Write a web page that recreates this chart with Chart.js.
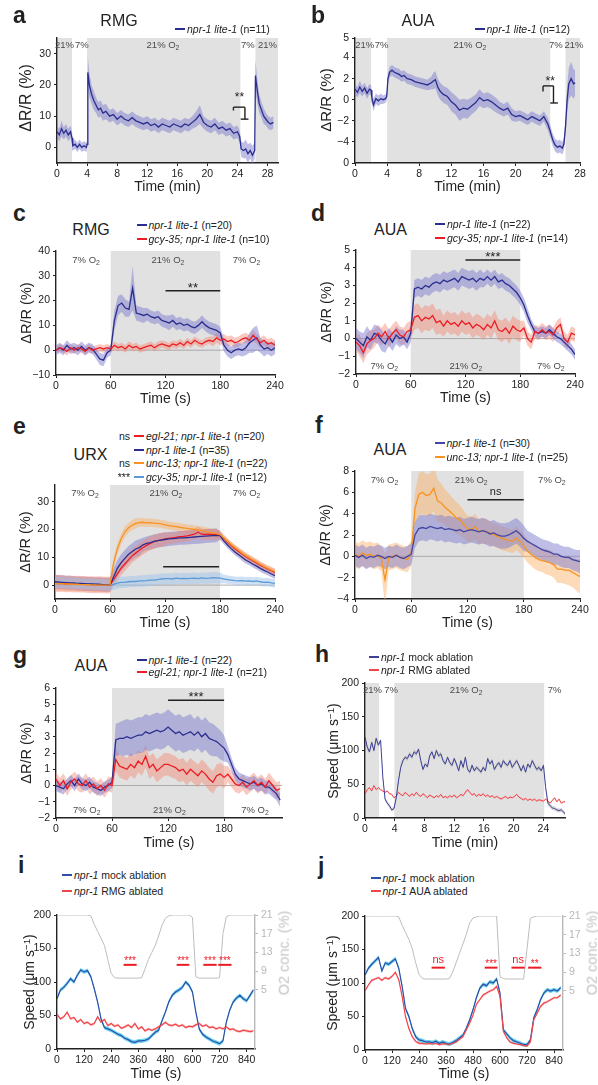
<!DOCTYPE html>
<html><head><meta charset="utf-8">
<script src="https://cdn.jsdelivr.net/npm/chart.js@4.4.0/dist/chart.umd.min.js"></script>
<style>
body{margin:0;width:598px;height:1085px;position:relative;background:#fff;overflow:hidden;font-family:'Liberation Sans',Arial,Helvetica,sans-serif}
canvas{position:absolute}
.t{position:absolute;white-space:nowrap;line-height:1;color:#222}
.t sup{font-size:0.7em;line-height:0;vertical-align:0.45em}
.mk{position:absolute;width:10px;height:2px}
</style></head><body>
<script>
// ---------------- DATA ----------------
// panel a (RMG, min)
const tA=[0,0.3,0.6,0.9,1.2,1.5,1.8,2.0,2.1,2.4,2.7,3.0,3.3,3.6,3.9,4.0,4.1,4.3,4.6,4.9,5.2,5.5,5.8,6.1,6.5,7,7.5,8,8.5,9,9.5,10,10.5,11,11.5,12,12.5,13,13.5,14,14.5,15,15.5,16,16.5,17,17.5,18,18.5,19,19.5,20,20.5,21,21.5,22,22.5,23,23.5,24,24.3,24.5,24.8,25.1,25.4,25.7,26.0,26.3,26.4,26.6,26.9,27.2,27.5,27.8,28.1,28.4,28.8];
const aMean=[5,4,6,4.5,5.5,4,5,3,0.5,1,0,1,0,0.5,0,1,24,20,17,15,13.5,12,12.5,11,11.5,10,10.5,9,10,9,8.5,9.5,8.5,8,7.5,8,7,7.5,6.5,7.5,7,6.5,7.5,7,6.5,7.5,7,8,9,10.5,8,7,6.5,7.5,6,6.5,5.5,6,4.5,5,3.5,-0.5,-1,-0.5,-2,-1,-2.5,-1,23,19,14,12,10,9,8,7.5,8];
const aErr=[2,2,2.5,2,2,2,2,2,1.5,1.5,1.5,1.5,1.5,1.5,1.5,1.5,5,4,3,3,2.5,2.5,2.5,2.5,2.5,2,2,2,2,2,2,2,2,2,2,2,2,2,2,2,2,2,2,2,2,2,2,2,2.5,3,2,2,2,2,2,2,2,2,2,2,2,2.5,2.5,3,3,2.5,3,2.5,5,4,3,2.5,2.5,2,2,2,2];
// panel b (AUA, min)
const tB=[0,0.3,0.6,0.9,1.2,1.5,1.8,2.0,2.1,2.3,2.6,2.9,3.2,3.5,3.8,3.95,4.1,4.3,4.6,4.9,5.2,5.5,5.8,6.1,6.5,7,7.5,8,8.5,9,9.5,9.8,10,10.3,10.6,11,11.5,12,12.5,13,13.5,14,14.5,15,15.5,16,16.5,17,17.5,18,18.5,19,19.5,20,20.5,21,21.5,22,22.5,23,23.5,24,24.3,24.6,24.9,25.2,25.5,25.8,26.0,26.2,26.4,26.6,26.9,27.2,27.4];
const bMean=[1.0,0.7,1.2,0.8,1.1,0.6,1.0,0.9,0.2,-0.5,0.1,-0.1,0.1,0,0.1,0.3,2.0,2.6,2.8,2.6,2.5,2.4,2.2,2.3,2.0,1.9,1.7,1.6,1.5,1.4,1.6,1.8,1.9,1.2,0.8,0.5,0.3,-0.2,-0.5,-1.0,-0.8,-0.9,-0.6,-0.3,0.2,-0.1,0.0,-0.2,-0.5,-0.8,-1.0,-0.8,-1.4,-1.6,-1.5,-1.7,-1.9,-1.6,-1.8,-2.0,-1.6,-2.3,-3.0,-3.8,-4.3,-4.5,-4.4,-4.6,-4.2,-2.5,0.0,1.5,2.0,1.5,1.6];
const bErr=[0.5,0.5,0.6,0.5,0.5,0.5,0.5,0.5,0.5,0.6,0.5,0.5,0.5,0.4,0.4,0.4,0.5,0.5,0.5,0.5,0.5,0.5,0.5,0.5,0.5,0.5,0.5,0.5,0.5,0.5,0.6,0.8,0.8,0.8,0.8,0.8,0.8,0.9,0.9,1.0,0.9,0.9,0.8,0.8,0.8,0.7,0.7,0.7,0.7,0.6,0.6,0.6,0.6,0.5,0.5,0.5,0.5,0.5,0.5,0.5,0.5,0.6,0.6,0.6,0.6,0.6,0.6,0.6,0.6,0.8,1.2,1.5,1.6,1.4,1.2];
// shared time axis for c-g (s)
const tSec=[0,4,8,12,16,20,24,28,32,36,40,44,48,52,56,60,64,68,72,76,80,84,88,92,96,100,104,108,112,116,120,124,128,132,136,140,144,148,152,156,160,164,168,172,176,180,184,188,192,196,200,204,208,212,216,220,224,228,232,236,240];
// panel c (RMG)
const cBlue=[0,1,0,2,0.5,1,0,1.5,0,1,0.5,-1.5,-3.5,-4,-1,0,12,18,19,17,16.5,25,15,14.5,14,14.5,13.5,13,13.5,12,11.5,11,12,10.5,11,10,10.5,9.5,9,10,11.5,10,9,8.5,8,7,2,0,-1,0,0.5,0,1,3,4,5,2,0.5,1,0,1];
const cBlueErr=[2,2,2,2,2,2,2,2,2,2,2,2,2.5,2.5,2,2,4,4,3.5,3.5,3,9,3,3,3,2.5,2.5,2.5,2.5,2.5,2.5,3,2.5,2.5,2.5,2.5,2.5,2.5,2.5,2.5,2.5,2.5,2.5,2.5,2.5,2.5,2.5,2.5,2.5,2.5,2.5,2.5,3,4,5,5,3,3,2.5,2.5,2.5];
const cRed=[0,1,0.5,-0.5,1,0,1,0.5,-0.5,1,0,0.5,1,0.5,1,0.5,2,1,1.5,0.5,2,1,1.5,0.5,1,1.5,2,1,2,2.5,2,1.5,2.5,2,3,2,3.5,2.5,4,3,2.5,3.5,4,3.5,5,4,4.5,3.5,4,3,3.5,4.5,5,4,6,4.5,3,4,2.5,3,2];
const cRedErr=[1.5,1.5,1.5,1.6,1.5,1.5,1.5,1.5,1.6,1.5,1.5,1.5,1.5,1.5,1.5,1.5,1.5,1.5,1.5,1.5,1.6,1.5,1.5,1.5,1.5,1.5,1.5,1.5,1.5,1.5,1.5,1.5,1.5,1.5,1.6,1.5,1.5,1.5,1.5,1.5,1.5,1.5,1.5,2,2,2,2,2,2,2,2,2,2,2,2.2,2,2,2,2,2,2];
// panel d (AUA)
const dBlue=[0,-0.2,-0.4,0.1,-0.1,0.3,0.2,-0.1,-0.3,0.1,-0.2,0.2,0,0.1,-0.2,0.3,2.8,2.9,2.8,3.0,2.9,3.1,3.2,3.1,3.3,3.2,3.3,3.4,3.2,3.5,3.4,3.3,3.4,3.2,3.4,3.3,3.5,3.3,3.5,3.2,3.3,3.1,3.0,2.8,2.6,2.3,1.9,1.3,0.8,0.4,0.3,0.4,0.3,0.5,0.3,0.1,0.0,-0.2,-0.4,-0.6,-0.9];
const dBlueErr=[0.6,0.6,0.7,0.6,0.5,0.5,0.5,0.6,0.5,0.5,0.5,0.5,0.5,0.4,0.4,0.5,0.5,0.5,0.5,0.5,0.5,0.5,0.5,0.5,0.5,0.5,0.5,0.5,0.5,0.5,0.5,0.5,0.5,0.5,0.5,0.4,0.4,0.4,0.4,0.4,0.4,0.4,0.4,0.4,0.4,0.4,0.4,0.4,0.3,0.3,0.3,0.3,0.3,0.3,0.3,0.3,0.3,0.3,0.3,0.3,0.3];
const dRed=[-0.2,-0.4,-0.8,-0.3,-0.1,0.0,0.3,0.1,0.4,0.0,0.3,0.5,0.2,0.1,0.4,0.5,1.2,1.3,1.0,1.2,1.1,1.3,0.9,1.0,0.7,1.0,0.8,0.9,0.7,1.0,0.8,0.9,0.6,0.8,0.7,0.5,0.8,0.6,1.0,0.5,0.4,0.6,0.3,0.7,0.5,0.4,0.6,0.0,-0.2,0.4,0.3,0.5,0.3,0.4,0.2,0.6,0.8,0.0,-0.2,0.3,0.2];
const dRedErr=[0.5,0.6,0.6,0.6,0.6,0.5,0.5,0.5,0.5,0.5,0.5,0.5,0.5,0.5,0.5,0.5,0.7,0.7,0.7,0.7,0.7,0.7,0.7,0.7,0.6,0.6,0.6,0.6,0.6,0.6,0.6,0.6,0.6,0.6,0.6,0.6,0.6,0.6,0.6,0.6,0.6,0.6,0.6,0.6,0.6,0.6,0.4,0.4,0.4,0.4,0.4,0.4,0.4,0.4,0.4,0.4,0.4,0.4,0.4,0.4,0.4];
// panel e (URX)
const eBlue=[1.2,1.1,1.0,0.9,0.8,0.8,0.6,0.6,0.5,0.4,0.4,0.3,0.3,0.2,0.1,0.1,3,6,8,9.5,11,12,13,13.5,14.5,15,15.3,15.7,16,16.2,16.4,16.6,16.7,16.8,17,17,17.1,17.2,17.3,17.4,17.5,17.6,17.7,17.8,17.9,17.8,16,14.5,13.2,12,11,10,9,8.3,7.5,6.8,6,5.3,4.7,4,3.4];
const eBlueErr=[2.5,2.5,2.5,2.5,2.5,2.5,2.5,2.5,2.5,2.5,2.5,2.5,2.5,2.5,2.5,2.5,3,3,3,3,3,3,3,3,2.5,2.5,2.5,2.5,2.5,2.5,2.5,2.5,2.5,2.5,2.5,2.5,2.5,2.5,2.5,2.5,2.5,2.5,2.5,2.5,2.5,1.5,1.2,1.2,1.2,1.2,1.2,1.2,1.2,1.2,1.2,1.2,1.2,1.2,1.2,1.2,1.2];
const eRed=[0.6,0.5,0.6,0.4,0.5,0.3,0.4,0.3,0.3,0.2,0.2,0.1,0.2,0.1,0.0,0.1,2,4,6,7.5,9,10.5,11.5,12.5,13.5,14.3,15,15.6,16,16.3,16.6,16.8,17,17.2,17.4,17.5,17.7,18,18.3,19,18.3,18.2,18.3,18.2,18.3,18.0,16.8,15.5,14.3,13.2,12.2,11.2,10.3,9.5,8.7,8,7.2,6.5,5.8,5.2,4.6];
const eRedErr=[3,3,3,3,3,3,3,3,3,3,3,3,3,3,3,3,2,2.5,2.5,2.5,2.5,2.5,2.5,2.5,2.5,2.5,2.5,2.5,2.5,2.5,2.5,2,2,2,2,2,2,2,2,2,2,2,2,2,2,1.5,1.2,1.2,1.2,1.2,1.2,1.2,1.2,1.2,1.2,1.2,1.2,1.2,1.2,1.2,1.2];
const eOrange=[0.6,0.5,0.5,0.4,0.4,0.3,0.3,0.2,0.2,0.2,0.1,0.1,0.0,0.0,0.0,0.1,8,13,16.5,19,20.5,21.5,22.2,22.5,22.6,22.4,22.5,22.3,22.2,22,21.7,21.4,21.2,21,20.8,20.6,20.4,20.2,20,19.8,19.6,19.3,19,18.8,18.5,18.2,17,15.8,14.6,13.5,12.5,11.5,10.6,9.8,9,8.2,7.4,6.7,6,5.4,4.8];
const eOrangeErr=[2.5,2.5,2.5,2.5,2.5,2.5,2.5,2.5,2.5,2.5,2.5,2.5,2.5,2.5,2.5,2.5,2,2,2,2,1.8,1.8,1.8,1.5,1.5,1.5,1.5,1.5,1.5,1.5,1.5,1.5,1.5,1.5,1.5,1.5,1.5,1.5,1.5,1.5,1.5,1.5,1.5,1.5,1.5,1.5,1.2,1.2,1.2,1.2,1.2,1.2,1.2,1.2,1.2,1.2,1.2,1.2,1.2,1.2,1.2];
const eCyan=[1.0,0.9,0.9,0.8,0.7,0.7,0.6,0.5,0.5,0.4,0.4,0.3,0.2,0.2,0.1,0.0,0.3,0.7,1,1,1.2,1.3,1.3,1.5,1.5,1.6,1.8,1.8,2,2.2,2.3,2.3,2.2,2.5,2.3,2.4,2.3,2.4,2.5,2.3,2.6,2.4,2.5,2.7,2.6,2.5,2.2,2,1.8,1.6,1.5,1.6,1.4,1.5,1.3,1.5,1.2,1.0,1.1,0.8,0.6];
const eCyanErr=[2,2,2,2,2,2,2,2,2,2,2,2,2,2,2,2,2,2,2,2,2,2,2,2,2,2,2,2,2,2,2,2,2,2,2,2,2,2,2,2,2,2,2,2,2,2,1.5,1.5,1.5,1.5,1.5,1.5,1.5,1.5,1.5,1.5,1.5,1.5,1.5,1.5,1.5];
// panel f (AUA)
const fBlue=[0.1,-0.1,0.1,-0.2,0.0,-0.1,0.1,0.0,-0.2,0.0,-0.1,0.1,-0.1,-0.2,0.0,0.2,2.0,2.6,2.7,2.6,2.8,2.7,2.6,2.7,2.5,2.6,2.5,2.4,2.5,2.3,2.4,2.5,2.4,2.3,2.4,2.3,2.1,2.2,2.0,1.9,1.9,2.0,2.2,2.4,2.1,1.7,1.4,1.2,1.0,0.8,0.6,0.5,0.4,0.2,0.2,0.0,-0.1,-0.1,-0.3,-0.4,-0.5];
const fBlueErr=[1,1,1,1,1,1,1,1,1,1,1,1,1,1,1,1,1.2,1.2,1.2,1.2,1.2,1.2,1.2,1.2,1.2,1.2,1.2,1.2,1.2,1.2,1.2,1.2,1.2,1.2,1.2,1.2,1.2,1.2,1.2,1.2,1.2,1.2,1.2,1.2,1.2,1.2,1,1,1,1,1,1,1,1,1,1,1,1,1,1,1.1];
const fOrange=[0.2,0.0,0.3,0.1,0.2,0.0,0.1,-0.2,-2.2,-0.1,0.0,0.1,-0.1,-0.2,-0.3,0.3,4.5,5.8,6.0,5.7,5.8,6.4,5.2,5.0,4.6,4.3,4.0,3.6,3.4,3.0,2.6,2.5,2.8,2.3,2.4,2.3,2.2,2.0,1.9,1.7,1.6,1.5,1.4,1.7,1.4,1.0,0.5,0.2,-0.1,-0.3,-0.4,-0.5,-0.6,-0.8,-1.2,-1.2,-1.3,-1.3,-1.5,-1.7,-1.9];
const fOrangeErr=[1.2,1.2,1.2,1.2,1.2,1.2,1.2,1.2,2.5,1.2,1.2,1.2,1.2,1.2,1.2,1.2,1.5,2,2,2,2,2.2,2,1.8,1.7,1.6,1.5,1.5,1.4,1.3,1.2,1.2,1.2,1.2,1.2,1.2,1.1,1.1,1.1,1.1,1.1,1.1,1.1,1.1,1.1,1.1,1.1,1.1,1.1,1.1,1.1,1.2,1.2,1.2,1.3,1.3,1.3,1.4,1.4,1.5,1.6];
// panel g (AUA)
const gBlue=[0.0,-0.1,-0.2,0.1,0.3,0.0,0.4,0.1,0.0,0.2,-0.1,-0.2,-0.3,-0.1,0.0,0.2,2.8,2.9,2.9,3.0,2.9,3.0,3.1,3.1,3.3,3.2,3.3,3.4,3.3,3.4,3.6,3.4,3.2,3.3,3.1,3.2,3.3,3.1,3.3,3.0,3.2,2.9,2.8,2.7,2.5,2.3,1.9,1.3,0.7,0.4,0.3,0.2,0.1,0.2,0.0,0.1,-0.1,-0.1,-0.3,-0.5,-0.9];
const gBlueErr=[0.35,0.35,0.35,0.35,0.35,0.35,0.35,0.35,0.35,0.35,0.35,0.35,0.35,0.35,0.35,0.35,1.0,1.0,1.1,1.1,1.1,1.1,1.1,1.1,1.1,1.1,1.1,1.1,1.1,1.1,1.1,1.1,1.1,1.1,1.1,1.1,1.1,1.0,1.0,1.0,1.0,1.0,1.0,0.9,0.9,0.8,0.5,0.4,0.4,0.4,0.4,0.4,0.4,0.4,0.4,0.4,0.4,0.4,0.4,0.4,0.4];
const gRed=[0.4,0.0,0.3,-0.2,0.2,0.4,0.1,0.0,0.3,-0.1,0.1,-0.2,0.0,-0.3,0.1,0.0,1.6,1.2,1.1,1.0,1.3,1.1,1.5,1.3,1.8,1.1,1.3,0.9,1.1,1.3,1.3,1.2,1.1,0.9,1.0,0.7,1.0,0.8,0.6,0.9,0.7,0.4,0.2,0.6,0.7,0.5,0.7,0.4,0.1,0.0,0.2,-0.1,0.1,0.3,0.0,0.2,-0.1,0.3,0.0,-0.3,-0.2];
const gRedErr=[0.45,0.45,0.45,0.45,0.45,0.45,0.45,0.45,0.45,0.45,0.45,0.45,0.45,0.45,0.45,0.45,0.7,0.7,0.7,0.7,0.7,0.7,0.7,0.7,0.7,0.7,0.7,0.7,0.7,0.7,0.7,0.7,0.7,0.7,0.7,0.7,0.7,0.7,0.7,0.7,0.7,0.7,0.7,0.7,0.7,0.7,0.5,0.5,0.5,0.5,0.5,0.5,0.5,0.5,0.5,0.5,0.5,0.5,0.5,0.5,0.5];
// panel h (speed, min)
const tH=[0,0.3,0.6,0.9,1.2,1.5,1.8,2.1,2.4,2.7,3,3.3,3.6,3.9,4.2,4.5,4.8,5.1,5.4,5.7,6,6.3,6.6,6.9,7.2,7.5,7.8,8.1,8.4,8.7,9,9.3,9.6,9.9,10.2,10.5,10.8,11.1,11.4,11.7,12,12.3,12.6,12.9,13.2,13.5,13.8,14.1,14.4,14.7,15,15.3,15.6,15.9,16.2,16.5,16.8,17.1,17.4,17.7,18,18.3,18.6,18.9,19.2,19.5,19.8,20.1,20.4,20.7,21,21.3,21.6,21.9,22.2,22.5,22.8,23.1,23.4,23.7,24,24.3,24.6,24.9,25.2,25.5,25.8,26.1,26.4,26.7,27];
const hBlue=[120,105,98,112,100,118,108,115,60,28,22,18,12,14,30,55,75,85,90,88,95,90,98,95,102,85,72,80,76,92,98,88,100,92,95,85,80,90,82,78,88,80,70,85,75,90,72,68,78,70,75,72,68,75,70,88,80,85,72,78,82,75,85,80,78,85,75,80,85,78,70,78,68,80,75,85,78,72,75,70,78,45,22,18,15,14,12,11,12,9,5];
const hRed=[35,42,45,40,48,42,45,42,40,38,40,36,35,30,32,38,35,33,38,35,32,36,33,38,34,32,36,33,30,34,32,30,33,31,35,30,32,30,33,31,34,30,32,35,33,38,42,38,34,36,32,35,33,36,32,34,31,33,30,32,30,28,30,32,29,31,30,32,35,31,29,27,29,26,28,26,28,25,27,26,25,28,25,22,26,30,24,28,22,24,24];
const hBlueSem=3, hRedSem=1.5;
// panels i, j (speed, s) and O2 trace
const tIJ=[0,15,30,45,60,75,90,105,120,135,150,165,180,195,210,225,240,255,270,285,300,315,330,345,360,375,390,405,420,435,450,465,480,495,510,525,540,555,570,585,600,615,630,645,660,675,690,705,720,735,750,765,780,795,810,825,840,855,870];
const iBlue=[75,88,92,98,105,100,110,118,115,117,108,90,70,45,32,30,28,25,22,20,16,14,11,10,12,12,13,15,20,25,28,42,55,70,80,85,88,92,100,95,85,55,30,22,18,15,12,10,8,12,40,58,70,76,80,75,72,80,88];
const iRed=[52,45,48,55,45,47,40,44,38,40,36,38,48,40,44,35,38,34,36,31,33,36,32,38,30,33,27,30,28,30,33,36,40,36,35,37,34,36,32,34,33,36,38,34,36,32,33,30,32,30,33,29,30,27,26,28,27,26,27];
const iO2=[21,21,21,21,21,21,21,21,21,21,20.8,19,17.5,16,14.5,11.5,8.5,7.6,7.5,7.5,7.5,7.5,7.5,7.5,7.5,7.6,9.5,11.5,13,14.5,16.5,18.8,20.3,20.8,21,21,21,21,21,21,20.5,7.8,7.5,7.5,7.5,7.5,7.5,7.5,7.6,17,20.6,21,21,21,21,21,21,21,21];
const jBlue=[112,122,128,133,138,118,130,128,132,136,122,95,62,50,32,20,15,14,12,12,11,13,10,12,10,9,11,14,18,22,32,45,60,78,92,98,96,102,100,106,85,30,24,18,14,12,10,8,8,15,48,60,75,85,90,88,90,88,93];
const jRed=[88,97,104,106,108,104,108,106,110,116,105,80,50,32,20,13,10,10,9,10,9,10,8,9,9,8,10,12,16,20,30,40,52,68,75,82,85,88,90,95,80,28,18,12,10,9,8,7,6,12,45,55,65,70,72,75,78,78,82];
const jO2=[21,21,21,21,21,21,21,21,21,21,20.8,19,17.5,16,14,11,8.5,7.6,7.5,7.5,7.5,7.5,7.5,7.5,7.5,7.6,9,11,13,15,17,19.5,20.6,20.8,21,21,21,21,21,21,8,7.6,7.5,7.5,7.5,7.5,7.5,7.5,14,20.5,20.8,21,21,21,21,21,21,21,21];
const ijBlueSem=3, ijRedSem=2;
// tick values / labels
const xMinTicks28=[0,4,8,12,16,20,24,28], xMinLabels28=['0','4','8','12','16','20','24','28'];
const xMinTicks24=[0,4,8,12,16,20,24], xMinLabels24=['0','4','8','12','16','20','24'];
const xSecTicks=[0,60,120,180,240], xSecLabels=['0','60','120','180','240'];
const xSecTicksG=[0,60,120,180], xSecLabelsG=['0','60','120','180'];
const xIJTicks=[0,120,240,360,480,600,720,840], xIJLabels=['0','120','240','360','480','600','720','840'];
const yATicks=[0,10,20,30], yALabels=['0','10','20','30'];
const yBTicks=[-6,-4,-2,0,2,4,5.85], yBLabels=['0','\u22124','\u22122','0','2','4','5'];
const yCTicks=[-10,0,10,20,30,40], yCLabels=['\u221210','0','10','20','30','40'];
const yDTicks=[-2,-1,0,1,2,3,4,5], yDLabels=['\u22122','\u22121','0','1','2','3','4','5'];
const yETicks=[0,10,20,30], yELabels=['0','10','20','30'];
const yFTicks=[-4,-2,0,2,4,6,8], yFLabels=['\u22124','\u22122','0','2','4','6','8'];
const yGTicks=[-2,-1,0,1,2,3,4,5,6], yGLabels=['\u22122','\u22121','0','1','2','3','4','5','6'];
const ySpdTicks=[0,50,100,150,200], ySpdLabels=['0','50','100','150','200'];
const yO2Ticks=[5,9,13,17,21], yO2Labels=['5','9','13','17','21'];

// ---------------- STYLE ----------------
const FONT="'Liberation Sans', Arial, Helvetica, sans-serif";
Chart.defaults.font.family=FONT;
Chart.defaults.color='#222';
const NAVY='#2b2e8f', NAVYB='rgba(125,125,205,0.5)';
const RED='#ec1c24', REDB='rgba(243,135,115,0.45)';
const ORANGE='#f7931e', ORANGEB='rgba(250,175,100,0.45)';
const LBLUE='#5b9bd5', LBLUEB='rgba(160,195,235,0.5)';
const HBLUE='#3d4096', HRED='#f0454b';
const IBLUE='#2c4fa8', IBLUEB='rgba(70,200,235,0.8)', IREDB='rgba(250,140,140,0.45)';
const SHADE='#e1e1e1';

function pts(xs,ys,err,sign){return xs.map((x,i)=>{const e=err===undefined?0:(Array.isArray(err)?(err[i]??err[err.length-1]):err);return {x:x,y:ys[i]+(sign||0)*e};});}

function drawSub(ctx,t,s,x,y,size,color){
  ctx.font=size+'px '+FONT;const w1=ctx.measureText(t).width;let w2=0;
  if(s){ctx.font=(size*0.72)+'px '+FONT;w2=ctx.measureText(s).width;}
  const x0=x-(w1+w2)/2;ctx.fillStyle=color;ctx.textAlign='left';ctx.textBaseline='middle';
  ctx.font=size+'px '+FONT;ctx.fillText(t,x0,y);
  if(s){ctx.font=(size*0.72)+'px '+FONT;ctx.fillText(s,x0+w1,y+size*0.3);}
}
function sigText(ctx,t,x,yc,color,asz){
  ctx.fillStyle=color;ctx.textAlign='center';ctx.textBaseline='alphabetic';
  if(t.indexOf('*')>=0){const z=asz||13;ctx.font=z+'px '+FONT;ctx.fillText(t,x,yc+0.58*z);}
  else{ctx.font='11px '+FONT;ctx.fillText(t,x,yc+3);}
}
function annot(p){return {id:'annot',
  beforeDraw(ch){const ctx=ch.ctx,a=ch.chartArea,X=ch.scales.x,Y=ch.scales.y;ctx.save();
    ctx.fillStyle=SHADE;(p.shade||[]).forEach(s=>{const x1=Math.max(a.left,X.getPixelForValue(s[0])),x2=Math.min(a.right,X.getPixelForValue(s[1]));ctx.fillRect(x1,a.top,x2-x1,a.bottom-a.top);});
    if(p.zero){const y0=Y.getPixelForValue(0);ctx.strokeStyle='#9a9a9a';ctx.lineWidth=0.8;ctx.beginPath();ctx.moveTo(a.left,y0);ctx.lineTo(a.right,y0);ctx.stroke();}
    ctx.restore();},
  afterDatasetsDraw(ch){const ctx=ch.ctx,a=ch.chartArea,X=ch.scales.x,Y=ch.scales.y;ctx.save();
    (p.phase||[]).forEach(ph=>{const px=X.getPixelForValue(ph.x);const py=ph.dy>0?a.top+ph.dy:a.bottom+ph.dy;drawSub(ctx,ph.t,ph.s,px,py,9.5,'#4a4a4a');});
    (p.sig||[]).forEach(s=>{const c=s.c||'#222';const x1=X.getPixelForValue(s.x1),x2=X.getPixelForValue(s.x2),y=Y.getPixelForValue(s.y);
      ctx.strokeStyle=c;ctx.lineWidth=s.lw||1.5;ctx.beginPath();ctx.moveTo(x1,y);ctx.lineTo(x2,y);ctx.stroke();
      if(s.t)sigText(ctx,s.t,(x1+x2)/2,y-(s.t.indexOf('*')>=0?6.5:7.5),c,s.asz);});
    if(p.bracket){ctx.strokeStyle='#222';ctx.lineWidth=1.4;p.bracket.seg.forEach(g=>{ctx.beginPath();ctx.moveTo(X.getPixelForValue(g[0]),Y.getPixelForValue(g[1]));ctx.lineTo(X.getPixelForValue(g[2]),Y.getPixelForValue(g[3]));ctx.stroke();});
      sigText(ctx,p.bracket.t,X.getPixelForValue(p.bracket.x),Y.getPixelForValue(p.bracket.y),'#222',12);}
    ctx.restore();}};}

function axisCfg(ax,horiz,size,color){
  const col=color||'#222';
  return {type:'linear',position:ax.pos||(horiz?'bottom':'left'),min:ax.min,max:ax.max,
    afterBuildTicks:s=>{s.ticks=ax.ticks.map(v=>({value:v}));},
    afterFit:s=>{if(horiz)s.height=size;else s.width=size;},
    ticks:{autoSkip:false,maxRotation:0,minRotation:0,padding:horiz?2:3,color:col,font:{size:10.5,family:FONT},callback:(v,i)=>ax.labels[i]},
    grid:{drawOnChartArea:false,drawTicks:true,tickLength:3,color:col,lineWidth:1},
    border:{display:true,color:col,width:1.4}};
}

function make(p){
  const PL=50,PT=12,PB=30,PR=p.y2?45:15;
  const [L,T,R,B]=p.box;const w=R-L+PL+PR,h=B-T+PT+PB;
  const cv=document.createElement('canvas');cv.width=w;cv.height=h;
  cv.style.left=(L-PL)+'px';cv.style.top=(T-PT)+'px';cv.style.width=w+'px';cv.style.height=h+'px';
  document.body.appendChild(cv);
  const ds=[];
  p.series.forEach((s,k)=>{
    if(s.err!==undefined){
      ds.push({data:pts(s.x,s.y,s.err,1),borderWidth:0,pointRadius:0,fill:'+1',backgroundColor:s.band,order:30+k,yAxisID:'y'});
      ds.push({data:pts(s.x,s.y,s.err,-1),borderWidth:0,pointRadius:0,fill:false,order:30+k,yAxisID:'y'});
    }
    ds.push({data:pts(s.x,s.y),borderColor:s.color,borderWidth:s.w||1.3,pointRadius:0,fill:false,order:s.order!==undefined?s.order:k,yAxisID:s.axis||'y'});
  });
  const scales={x:axisCfg(p.x,true,PB),y:axisCfg(p.y,false,PL)};
  if(p.y2)scales.y2=axisCfg(Object.assign({pos:'right'},p.y2),false,PR,'#b8b8b8');
  new Chart(cv,{type:'line',data:{datasets:ds},
    options:{responsive:false,animation:false,events:[],devicePixelRatio:1,
      layout:{padding:{top:PT,right:p.y2?0:PR,left:0,bottom:0}},
      plugins:{legend:{display:false},tooltip:{enabled:false}},scales:scales},
    plugins:[annot(p)]});
}

// ---------------- PANELS ----------------
make({box:[57,38,278,163],x:{min:0,max:29.4,ticks:xMinTicks28,labels:xMinLabels28},y:{min:-5,max:35,ticks:yATicks,labels:yALabels},
  shade:[[0,2],[4,24.4],[26.4,29.4]],
  series:[{x:tA,y:aMean,err:aErr,color:NAVY,band:NAVYB,w:1.3}],
  phase:[{x:1.0,dy:7,t:'21%'},{x:3.3,dy:7,t:'7%'},{x:14.1,dy:7,t:'21% O',s:'2'},{x:25.4,dy:7,t:'7%'},{x:28.0,dy:7,t:'21%'}],
  bracket:{seg:[[23.47,11.8,23.47,12.87],[23.47,12.87,25,12.87],[25,12.87,25,9.04],[24.44,9.04,25.47,9.04]],t:'**',x:24.27,y:17}});
make({box:[355,38,580,163],x:{min:0,max:28,ticks:xMinTicks28,labels:xMinLabels28},y:{min:-6,max:5.85,ticks:yBTicks,labels:yBLabels},
  shade:[[0,2],[4,24.3],[26.2,28]],
  series:[{x:tB,y:bMean,err:bErr,color:NAVY,band:NAVYB,w:1.3}],
  phase:[{x:1.2,dy:7,t:'21%'},{x:3.3,dy:7,t:'7%'},{x:14.3,dy:7,t:'21% O',s:'2'},{x:25.0,dy:7,t:'7%'},{x:27.25,dy:7,t:'21%'}],
  bracket:{seg:[[23.4,0.78,23.4,1.31],[23.4,1.31,24.7,1.31],[24.7,1.31,24.7,-0.31],[24.3,-0.31,25.25,-0.31]],t:'**',x:24.3,y:2.03}});
make({box:[56,251,275,375],x:{min:0,max:240,ticks:xSecTicks,labels:xSecLabels},y:{min:-10,max:40,ticks:yCTicks,labels:yCLabels},
  shade:[[60,180]],zero:true,
  series:[{x:tSec,y:cBlue,err:cBlueErr,color:NAVY,band:NAVYB,order:1},{x:tSec,y:cRed,err:cRedErr,color:RED,band:REDB,order:0}],
  phase:[{x:33,dy:9.5,t:'7% O',s:'2'},{x:122.7,dy:9.5,t:'21% O',s:'2'},{x:208.8,dy:9.5,t:'7% O',s:'2'}],
  sig:[{x1:120,x2:180,y:24,t:'**'}]});
make({box:[356,250,575,374],x:{min:0,max:240,ticks:xSecTicks,labels:xSecLabels},y:{min:-2,max:5,ticks:yDTicks,labels:yDLabels},
  shade:[[60,180]],zero:true,
  series:[{x:tSec,y:dBlue,err:dBlueErr,color:NAVY,band:NAVYB,order:1},{x:tSec,y:dRed,err:dRedErr,color:RED,band:REDB,order:0}],
  phase:[{x:31,dy:-7.5,t:'7% O',s:'2'},{x:120.4,dy:-7.5,t:'21% O',s:'2'},{x:213.5,dy:-7.5,t:'7% O',s:'2'}],
  sig:[{x1:120,x2:180,y:4.44,t:'***'}]});
make({box:[55,485,275,599],x:{min:0,max:240,ticks:xSecTicks,labels:xSecLabels},y:{min:-5,max:36,ticks:yETicks,labels:yELabels},
  shade:[[60,180]],zero:true,
  series:[{x:tSec,y:eCyan,err:eCyanErr,color:LBLUE,band:LBLUEB,order:3},{x:tSec,y:eRed,err:eRedErr,color:RED,band:REDB,order:2},
          {x:tSec,y:eBlue,err:eBlueErr,color:NAVY,band:NAVYB,order:1},{x:tSec,y:eOrange,err:eOrangeErr,color:ORANGE,band:ORANGEB,order:0}],
  phase:[{x:32.7,dy:8.5,t:'7% O',s:'2'},{x:121,dy:8.5,t:'21% O',s:'2'},{x:209,dy:8.5,t:'7% O',s:'2'}],
  sig:[{x1:118,x2:179,y:6.6}]});
make({box:[355,471,580,599],x:{min:0,max:240,ticks:xSecTicks,labels:xSecLabels},y:{min:-4,max:8,ticks:yFTicks,labels:yFLabels},
  shade:[[60,180]],zero:true,
  series:[{x:tSec,y:fBlue,err:fBlueErr,color:'#4346a3',band:NAVYB,order:0},{x:tSec,y:fOrange,err:fOrangeErr,color:ORANGE,band:ORANGEB,order:1}],
  phase:[{x:31.4,dy:9,t:'7% O',s:'2'},{x:124,dy:9,t:'21% O',s:'2'},{x:210,dy:9,t:'7% O',s:'2'}],
  sig:[{x1:120,x2:180,y:5.3,t:'ns'}]});
make({box:[56,688,282,818],x:{min:0,max:242,ticks:xSecTicksG,labels:xSecLabelsG},y:{min:-2,max:6,ticks:yGTicks,labels:yGLabels},
  shade:[[60,180]],zero:true,
  series:[{x:tSec,y:gBlue,err:gBlueErr,color:NAVY,band:NAVYB,order:1},{x:tSec,y:gRed,err:gRedErr,color:RED,band:REDB,order:0}],
  phase:[{x:32.9,dy:-8,t:'7% O',s:'2'},{x:121.4,dy:-8,t:'21% O',s:'2'},{x:213,dy:-8,t:'7% O',s:'2'}],
  sig:[{x1:120,x2:180,y:5.24,t:'***'}]});
make({box:[365,683,565,818],x:{min:0,max:26.9,ticks:xMinTicks24,labels:xMinLabels24},y:{min:0,max:200,ticks:ySpdTicks,labels:ySpdLabels},
  shade:[[0,1.9],[3.95,24.1]],
  series:[{x:tH,y:hBlue,err:hBlueSem,color:HBLUE,band:'rgba(120,120,120,0.3)',w:1,order:0},{x:tH,y:hRed,err:hRedSem,color:HRED,band:'rgba(250,150,150,0.4)',w:1,order:1}],
  phase:[{x:1.0,dy:7,t:'21%'},{x:3.5,dy:7,t:'7%'},{x:13.6,dy:7,t:'21% O',s:'2'},{x:25.5,dy:7,t:'7%'}]});
make({box:[57,915,255,1049],x:{min:0,max:877,ticks:xIJTicks,labels:xIJLabels},y:{min:0,max:200,ticks:ySpdTicks,labels:ySpdLabels},
  y2:{min:-7.65,max:21,ticks:yO2Ticks,labels:yO2Labels},
  series:[{x:tIJ,y:iO2,color:'#bdbdbd',w:1,axis:'y2',order:5},{x:tIJ,y:iBlue,err:ijBlueSem,color:IBLUE,band:IBLUEB,w:1.2,order:1},{x:tIJ,y:iRed,err:ijRedSem,color:HRED,band:IREDB,w:1.2,order:0}],
  sig:[{x1:295,x2:353,y:125.6,t:'***',c:RED,lw:2,asz:10},{x1:530,x2:586,y:125.6,t:'***',c:RED,lw:2,asz:10},{x1:648,x2:707,y:125.6,t:'***',c:RED,lw:2,asz:10},{x1:714,x2:773,y:125.6,t:'***',c:RED,lw:2,asz:10}]});
make({box:[365,916,563,1050],x:{min:0,max:880,ticks:xIJTicks,labels:xIJLabels},y:{min:0,max:200,ticks:ySpdTicks,labels:ySpdLabels},
  y2:{min:-7.7,max:21,ticks:yO2Ticks,labels:yO2Labels},
  series:[{x:tIJ,y:jO2,color:'#bdbdbd',w:1,axis:'y2',order:5},{x:tIJ,y:jBlue,err:ijBlueSem,color:IBLUE,band:IBLUEB,w:1.2,order:1},{x:tIJ,y:jRed,err:ijRedSem,color:HRED,band:IREDB,w:1.2,order:0}],
  sig:[{x1:296,x2:355,y:122.9,t:'ns',c:RED,lw:2},{x1:532,x2:589,y:122.9,t:'***',c:RED,lw:2,asz:10},{x1:651,x2:710,y:122.9,t:'ns',c:RED,lw:2},{x1:725,x2:784,y:122.9,t:'**',c:RED,lw:2,asz:10}]});

// ---------------- TEXT ----------------
function txt(x,y,html,o){o=o||{};const d=document.createElement('div');d.className='t';d.innerHTML=html;
  const size=o.size||10.5;d.style.fontSize=size+'px';d.style.left=x+'px';
  if(o.bold)d.style.fontWeight='bold';if(o.color)d.style.color=o.color;
  const ax=o.align==='left'?'0':(o.align==='right'?'-100%':'-50%');
  if(o.baseline){d.style.top=(y-0.8465*size)+'px';d.style.transform='translate('+ax+',0)';}
  else{d.style.top=y+'px';d.style.transform='translate('+ax+',-50%)'+(o.rot?' rotate('+o.rot+'deg)':'');}
  document.body.appendChild(d);}
function leg(x,y,color,html,prefix){const m=document.createElement('div');m.className='mk';m.style.left=x+'px';m.style.top=(y-1)+'px';m.style.background=color;document.body.appendChild(m);
  txt(x+12,y,html,{align:'left'});if(prefix)txt(x-4,y,prefix,{align:'right'});}

[['a',13,23],['b',311,23],['c',13,221],['d',311,221],['e',13,434],['f',315,433],['g',13,663],['h',315,662],['i',18,873],['j',318,874]]
  .forEach(l=>txt(l[1],l[2],l[0],{size:23,bold:true,align:'left',baseline:true}));
[['RMG',119,26.7],['AUA',418,26.7],['RMG',91,236],['AUA',390.5,236],['URX',90.5,461],['AUA',390,456],['AUA',91,672]]
  .forEach(l=>txt(l[1],l[2],l[0],{size:16,baseline:true}));

leg(175,29.3,NAVY,'<i>npr-1 lite-1</i> (n=11)');
leg(474.5,29.3,NAVY,'<i>npr-1 lite-1</i> (n=12)');
leg(136.5,225,NAVY,'<i>npr-1 lite-1</i> (n=20)');
leg(136.5,239.3,RED,'<i>gcy-35; npr-1 lite-1</i> (n=10)');
leg(435,224,NAVY,'<i>npr-1 lite-1</i> (n=22)');
leg(435,238.3,RED,'<i>gcy-35; npr-1 lite-1</i> (n=14)');
leg(134,436,RED,'<i>egl-21; npr-1 lite-1</i> (n=20)','ns');
leg(134,450,NAVY,'<i>npr-1 lite-1</i> (n=35)');
leg(134,463.3,ORANGE,'<i>unc-13; npr-1 lite-1</i> (n=22)','ns');
leg(134,476.7,LBLUE,'<i>gcy-35; npr-1 lite-1</i> (n=12)','***');
leg(434.5,443.3,'#4346a3','<i>npr-1 lite-1</i> (n=30)');
leg(434.5,456.7,ORANGE,'<i>unc-13; npr-1 lite-1</i> (n=25)');
leg(136.5,660,NAVY,'<i>npr-1 lite-1</i> (n=22)');
leg(136.5,672.3,RED,'<i>egl-21; npr-1 lite-1</i> (n=21)');
leg(369,656.7,HBLUE,'<i>npr-1</i> mock ablation');
leg(369,670,HRED,'<i>npr-1</i> RMG ablated');
leg(62,875,IBLUE,'<i>npr-1</i> mock ablation');
leg(62,890.7,HRED,'<i>npr-1</i> RMG ablated');
leg(370.5,877.7,IBLUE,'<i>npr-1</i> mock ablation');
leg(370.5,891,HRED,'<i>npr-1</i> AUA ablated');

[['Time (min)',167.5,186],['Time (min)',467.5,186],['Time (s)',165.5,398],['Time (s)',465.5,397],['Time (s)',165,622],['Time (s)',467.5,622],['Time (s)',169,842],['Time (min)',465,842],['Time (s)',156,1073],['Time (s)',464,1073]]
  .forEach(l=>txt(l[1],l[2],l[0],{size:14}));
const DR='\u0394R/R (%)';
txt(26,98,DR,{size:16,rot:-90});
txt(325,100,DR,{size:15,rot:-90});
txt(26,313,DR,{size:14.5,rot:-90});
txt(326,312,DR,{size:14.5,rot:-90});
txt(25,542,DR,{size:14.5,rot:-90});
txt(325,535,DR,{size:14.5,rot:-90});
txt(26,753,DR,{size:14.5,rot:-90});
const SP='Speed (\u03bcm s<sup>\u22121</sup>)';
txt(333,750.5,SP,{size:14,rot:-90});
txt(28.5,982,SP,{size:14,rot:-90});
txt(331.5,983,SP,{size:14,rot:-90});
txt(284,952.5,'O2 conc. (%)',{size:14.5,rot:-90,color:'#c4c4c4'});
txt(592,953,'O2 conc. (%)',{size:14.5,rot:-90,color:'#c4c4c4'});
</script>
</body></html>
